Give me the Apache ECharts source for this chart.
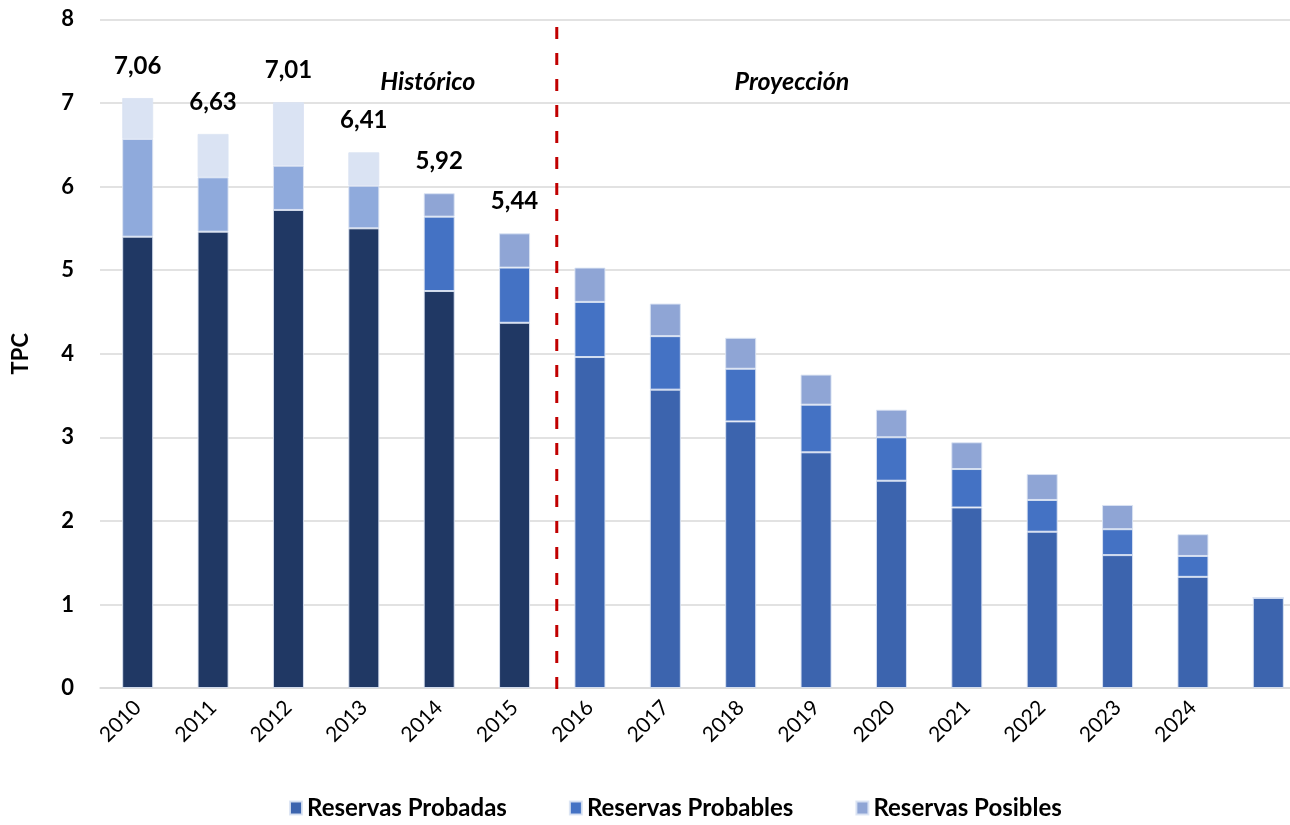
<!DOCTYPE html>
<html>
<head>
<meta charset="utf-8">
<script src="https://cdn.jsdelivr.net/npm/echarts@6/dist/echarts.min.js"></script>
<style>html,body{margin:0;padding:0;background:#fff}#c{width:1290px;height:825px}</style>
</head>
<body>
<div id="c"></div>
<script>
const categories = ['2010','2011','2012','2013','2014','2015','2016','2017','2018','2019','2020','2021','2022','2023','2024','2025'];
const tickLabels = ['2010','2011','2012','2013','2014','2015','2016','2017','2018','2019','2020','2021','2022','2023','2024',''];
const probadas  = [5.40,5.46,5.72,5.50,4.75,4.37,3.96,3.57,3.19,2.82,2.48,2.16,1.87,1.59,1.33,1.08];
const probables = [1.17,0.65,0.53,0.51,0.89,0.66,0.66,0.64,0.63,0.57,0.52,0.46,0.38,0.31,0.25,0];
const posibles  = [0.49,0.52,0.76,0.40,0.28,0.41,0.41,0.39,0.37,0.36,0.33,0.32,0.31,0.29,0.26,0];
const totalLabels = ['7,06','6,63','7,01','6,41','5,92','5,44'];
const periodTexts = [{name:'Histórico', x:3.85, y:7.25},{name:'Proyección', x:8.68, y:7.25}];
const dividerX = 5.56;
const dividerY = [7.91, -0.11];

const FONT = 'Lato';
const C_PROB = '#3C64AE', C_PRBL = '#4472C4', C_POS = '#8FA5D5';
const H_PROB = '#203864', H_PRBL_OLD = '#8FAADC', H_POS_OLD = '#DAE3F3';

function probadasData(){ return probadas.map((v,i)=>({value:v, itemStyle:{color: i<6 ? H_PROB : C_PROB}})); }
function probablesData(){ return probables.map((v,i)=>({value:v, itemStyle:{color: i<4 ? H_PRBL_OLD : C_PRBL}})); }
function posiblesData(){ return posibles.map((v,i)=>({value:v, itemStyle:{color: i<4 ? H_POS_OLD : C_POS},
  label: i<totalLabels.length ? {show:true, position:'top', distance:20, formatter: totalLabels[i],
    fontFamily:FONT, fontWeight:'bold', fontSize:24, color:'#000'} : {show:false}})); }

const chart = echarts.init(document.getElementById('c'), null, {renderer:'canvas'});
const border = {borderColor:'rgba(218,227,243,0.9)', borderWidth:1};
chart.setOption({
  animation:false,
  backgroundColor:'#fff',
  grid:{left:100, top:19.4, width:1206, height:668.6, containLabel:false, outerBoundsMode:'none'},
  legend:{
    bottom:0, left:284, icon:'rect', itemWidth:12, itemHeight:13, itemGap:62,
    textStyle:{fontFamily:FONT, fontWeight:'bold', fontSize:24, color:'#000'},
    data:['Reservas Probadas','Reservas Probables','Reservas Posibles']
  },
  xAxis:[{
    type:'category', data:categories,
    axisLine:{show:true, lineStyle:{color:'#D9D9D9', width:1.5}},
    axisTick:{show:false},
    axisLabel:{rotate:45, fontFamily:FONT, fontSize:21, color:'#000', margin:16, interval:0,
      formatter:(v,i)=>tickLabels[i]}
  },{
    type:'value', min:-0.5, max:15.5, show:false
  }],
  yAxis:[{
    type:'value', min:0, max:8, interval:1,
    name:'TPC', nameLocation:'middle', nameRotate:90, nameGap:68,
    nameTextStyle:{fontFamily:FONT, fontWeight:'bold', fontSize:22, color:'#000'},
    axisLine:{show:false}, axisTick:{show:false},
    axisLabel:{fontFamily:FONT, fontWeight:'bold', fontSize:22, color:'#000', margin:26},
    splitLine:{lineStyle:{color:'#D9D9D9', width:1.5}}
  }],
  series:[
    {name:'Reservas Probadas', type:'bar', stack:'r', barWidth:31, itemStyle:Object.assign({color:C_PROB},border), data:probadasData()},
    {name:'Reservas Probables', type:'bar', stack:'r', barWidth:31, itemStyle:Object.assign({color:C_PRBL},border), data:probablesData()},
    {name:'Reservas Posibles', type:'bar', stack:'r', barWidth:31, itemStyle:Object.assign({color:C_POS},border), data:posiblesData()},
    {name:'divider', type:'line', xAxisIndex:1, clip:false, symbol:'none', silent:true,
      lineStyle:{color:'#C00000', width:3, type:[12,14]},
      data:dividerY.map(y=>[dividerX,y]), z:5},
    {name:'periods', type:'scatter', xAxisIndex:1, symbolSize:1, silent:true,
      itemStyle:{opacity:1, color:'rgba(0,0,0,0)'},
      data:periodTexts.map(p=>({value:[p.x,p.y], name:p.name})),
      label:{show:true, position:'inside', formatter:p=>p.name, fontFamily:FONT, fontWeight:'bold', fontStyle:'italic', fontSize:25, color:'#000', opacity:1, textBorderWidth:0}}
  ]
});
</script>
</body>
</html>
